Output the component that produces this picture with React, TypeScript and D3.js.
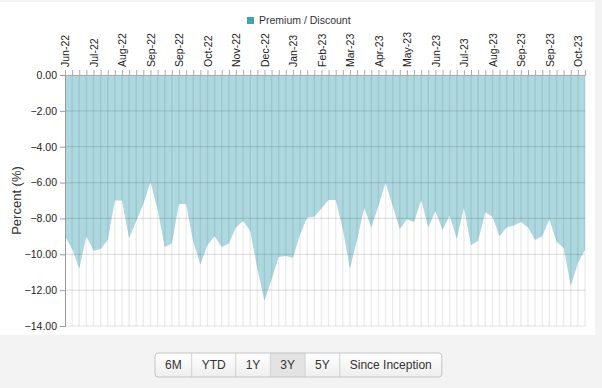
import React, { useEffect, useRef } from 'react';
import * as d3 from 'd3';

// weekly premium / discount readings (percent)
const premiumDiscount: number[] = [
  -9.0, -9.7, -10.8, -9.0, -9.8, -9.7, -9.2, -7.0, -7.0, -9.1,
  -8.15, -7.2, -5.97, -7.5, -9.6, -9.4, -7.2, -7.2, -9.3, -10.55,
  -9.5, -9.0, -9.6, -9.4, -8.5, -8.15, -8.7, -10.8, -12.6, -11.4,
  -10.15, -10.1, -10.2, -8.9, -7.95, -7.9, -7.45, -6.97, -6.97, -8.6,
  -10.8, -9.2, -7.4, -8.5, -7.3, -6.0, -7.3, -8.6, -8.05, -8.2,
  -6.97, -8.5, -7.6, -8.65, -7.85, -9.15, -7.4, -9.5, -9.25, -7.65,
  -7.9, -9.0, -8.5, -8.4, -8.2, -8.5, -9.2, -9.0, -8.05, -9.3,
  -9.65, -11.75, -10.5, -9.75,
];

// a label every 4th week
const monthLabels: string[] = [
  'Jun-22', 'Jul-22', 'Aug-22', 'Sep-22', 'Sep-22', 'Oct-22', 'Nov-22', 'Dec-22', 'Jan-23',
  'Feb-23', 'Mar-23', 'Apr-23', 'May-23', 'Jun-23', 'Jul-23', 'Aug-23', 'Sep-23', 'Sep-23', 'Oct-23',
];
const labelEvery = 4;

const yTicks: number[] = [0, -2, -4, -6, -8, -10, -12, -14];

const rangeButtons: string[] = ['6M', 'YTD', '1Y', '3Y', '5Y', 'Since Inception'];
const selectedRange = '3Y';

const W = 602;
const H = 388;
const font = '"Liberation Sans", Arial, sans-serif';

const App: React.FC = () => {
  const svgRef = useRef<SVGSVGElement | null>(null);

  useEffect(() => {
    if (!svgRef.current) return;
    const svg = d3.select(svgRef.current);
    svg.selectAll('*').remove();

    const left = 65, right = 585, top = 75, bottom = 326;

    const x = d3.scaleLinear().domain([0, premiumDiscount.length - 1]).range([left, right]);
    const y = d3.scaleLinear().domain([-14, 0]).range([bottom, top]);

    // backgrounds
    svg.append('rect').attr('width', W).attr('height', H).attr('fill', '#f3f3f3');
    svg.append('rect').attr('x', 0).attr('y', 2).attr('width', 595).attr('height', 333).attr('fill', '#ffffff');

    // legend
    svg.append('rect').attr('x', 247).attr('y', 17).attr('width', 7).attr('height', 7).attr('fill', '#3ea3b8');
    svg.append('text')
      .attr('x', 259).attr('y', 24)
      .style('font-family', font).style('font-size', '10.5px').attr('fill', '#333')
      .text('Premium / Discount');

    // area between zero and the series
    const area = d3.area<number>()
      .x((_, i) => x(i))
      .y0(y(0))
      .y1((d) => y(d));
    svg.append('path')
      .datum(premiumDiscount)
      .attr('d', area)
      .attr('fill', '#add8df');

    // vertical grid, one per week
    svg.append('g')
      .selectAll('line')
      .data(premiumDiscount.map((_, i) => i).slice(1))
      .enter()
      .append('line')
      .attr('x1', (d) => x(d)).attr('x2', (d) => x(d))
      .attr('y1', top).attr('y2', bottom)
      .attr('stroke', 'rgba(0,0,0,0.075)')
      .attr('stroke-width', 1.5);

    // horizontal grid
    svg.append('g')
      .selectAll('line')
      .data(yTicks.slice(1))
      .enter()
      .append('line')
      .attr('x1', left).attr('x2', right)
      .attr('y1', (d) => y(d)).attr('y2', (d) => y(d))
      .attr('stroke', 'rgba(0,0,0,0.11)')
      .attr('stroke-width', 1.2);

    // top axis
    const xAxis = d3.axisTop(x)
      .tickValues(premiumDiscount.map((_, i) => i))
      .tickSize(5)
      .tickFormat((d) => {
        const i = d as number;
        return i % labelEvery === 0 ? monthLabels[i / labelEvery] ?? '' : '';
      });
    const gx = svg.append('g').attr('transform', `translate(0,${top})`).call(xAxis);
    gx.select('.domain').attr('stroke', '#aaa');
    gx.selectAll('.tick line').attr('stroke', '#aaa');
    gx.selectAll('.tick text')
      .attr('transform', 'rotate(-90)')
      .attr('x', 8)
      .attr('y', 0)
      .attr('dy', '0.35em')
      .attr('text-anchor', 'start')
      .style('font-family', font)
      .style('font-size', '10.5px')
      .attr('fill', '#222');
    // rotated labels read upward, ending just above the axis
    gx.selectAll('.tick text')
      .attr('x', 8)
      .attr('text-anchor', 'start');
    gx.selectAll<SVGTextElement, number>('.tick text').each(function () {
      d3.select(this).attr('transform', 'rotate(-90)').attr('x', 8);
    });

    // left axis
    const yAxis = d3.axisLeft(y)
      .tickValues(yTicks)
      .tickSize(5)
      .tickFormat((d) => d3.format('.2f')(d as number));
    const gy = svg.append('g').attr('transform', `translate(${left},0)`).call(yAxis);
    gy.select('.domain').attr('stroke', '#999');
    gy.selectAll('.tick line').attr('stroke', '#999');
    gy.selectAll('.tick text')
      .attr('x', -8)
      .style('font-family', font)
      .style('font-size', '10.5px')
      .attr('fill', '#222');

    svg.append('text')
      .attr('transform', `translate(21,${(top + bottom) / 2}) rotate(-90)`)
      .attr('text-anchor', 'middle')
      .style('font-family', font)
      .style('font-size', '13px')
      .attr('fill', '#333')
      .text('Percent (%)');

    // range selector buttons
    const btnY = 353, btnH = 24, pad = 10;
    const g = svg.append('g');
    const widths: number[] = [];
    const measure = svg.append('text').style('font-family', font).style('font-size', '12px');
    rangeButtons.forEach((b) => {
      measure.text(b);
      widths.push((measure.node() as SVGTextElement).getComputedTextLength() + pad * 2);
    });
    measure.remove();
    const total = d3.sum(widths);
    let bx = 155;
    const defs = svg.append('defs');
    const grad = defs.append('linearGradient').attr('id', 'btn').attr('x1', 0).attr('y1', 0).attr('x2', 0).attr('y2', 1);
    grad.append('stop').attr('offset', '0%').attr('stop-color', '#ffffff');
    grad.append('stop').attr('offset', '100%').attr('stop-color', '#eeeeee');
    rangeButtons.forEach((b, i) => {
      const w = widths[i];
      g.append('rect')
        .attr('x', bx).attr('y', btnY).attr('width', w).attr('height', btnH)
        .attr('fill', b === selectedRange ? '#e3e3e3' : 'url(#btn)');
      g.append('text')
        .attr('x', bx + w / 2).attr('y', btnY + btnH / 2)
        .attr('dy', '0.35em')
        .attr('text-anchor', 'middle')
        .style('font-family', font)
        .style('font-size', '12px')
        .attr('fill', '#333')
        .text(b);
      if (i > 0) {
        g.append('line')
          .attr('x1', bx).attr('x2', bx).attr('y1', btnY).attr('y2', btnY + btnH)
          .attr('stroke', '#d0d0d0');
      }
      bx += w;
    });
    g.append('rect')
      .attr('x', 155).attr('y', btnY).attr('width', total).attr('height', btnH)
      .attr('rx', 3)
      .attr('fill', 'none')
      .attr('stroke', '#c4c4c4');
  }, []);

  return (
    <svg
      ref={svgRef}
      width={W}
      height={H}
      style={{ position: 'absolute', left: 0, top: 0 }}
    />
  );
};

export default App;
